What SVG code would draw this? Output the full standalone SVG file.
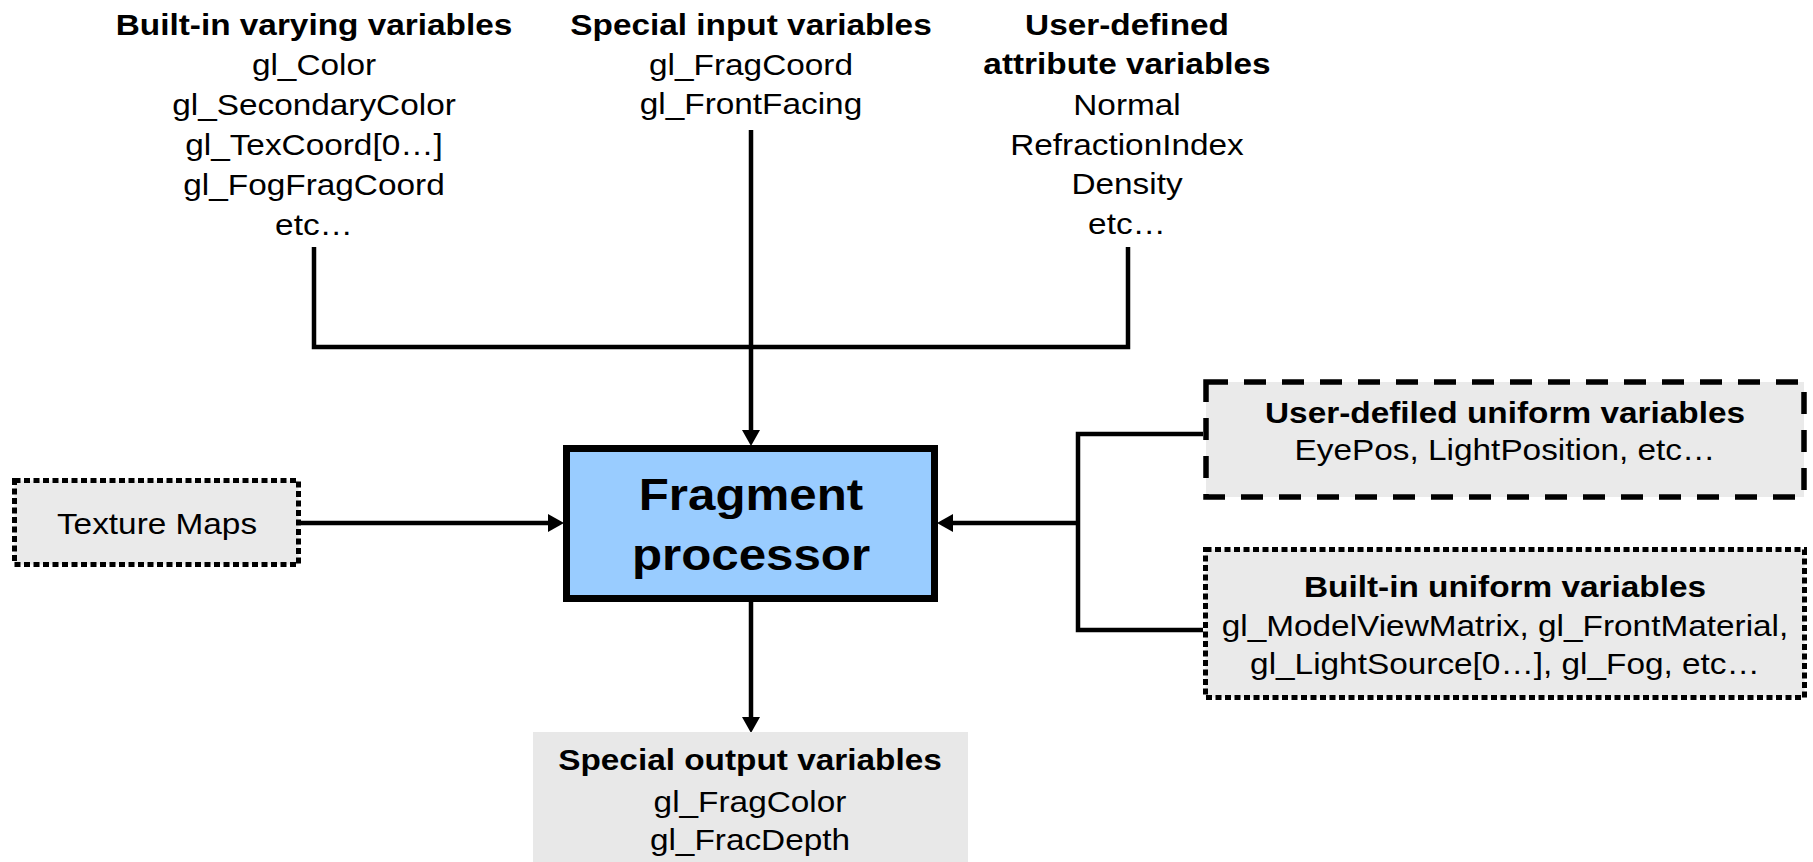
<svg xmlns="http://www.w3.org/2000/svg" width="1813" height="862" viewBox="0 0 1813 862">
<defs>
<style>
text{font-family:"Liberation Sans",Arial,sans-serif;font-size:29px;fill:#000;text-anchor:middle}
.b{font-weight:bold}
.big{font-size:44px;font-weight:bold}
.ln{fill:none;stroke:#000;stroke-width:4.5}
</style>
<marker id="ah" markerUnits="userSpaceOnUse" markerWidth="16" markerHeight="18" refX="5" refY="9" orient="auto" viewBox="0 0 16 18">
<path d="M0,0 L16,9 L0,18 z" fill="#000"/>
</marker>
</defs>
<rect width="1813" height="862" fill="#fff"/>

<g id="connectors">
<polyline class="ln" points="314,247 314,347 1128,347 1128,247"/>
<line class="ln" x1="751" y1="130" x2="751" y2="435" marker-end="url(#ah)"/>
<line class="ln" x1="301" y1="523" x2="553" y2="523" marker-end="url(#ah)"/>
<polyline class="ln" points="1203,434 1078,434 1078,630 1203,630"/>
<line class="ln" x1="1078" y1="523" x2="948" y2="523" marker-end="url(#ah)"/>
<line class="ln" x1="751" y1="602" x2="751" y2="722" marker-end="url(#ah)"/>
</g>

<g id="builtin-varying" transform="translate(314 0) scale(1.15 1)">
<text class="b" x="0" y="35">Built-in varying variables</text>
<text x="0" y="75">gl_Color</text>
<text x="0" y="115">gl_SecondaryColor</text>
<text x="0" y="155">gl_TexCoord[0…]</text>
<text x="0" y="195">gl_FogFragCoord</text>
<text x="0" y="235">etc…</text>
</g>

<g id="special-input" transform="translate(751 0) scale(1.15 1)">
<text class="b" x="0" y="35">Special input variables</text>
<text x="0" y="75">gl_FragCoord</text>
<text x="0" y="114">gl_FrontFacing</text>
</g>

<g id="user-attribute" transform="translate(1127 0) scale(1.15 1)">
<text class="b" x="0" y="35">User-defined</text>
<text class="b" x="0" y="74">attribute variables</text>
<text x="0" y="115">Normal</text>
<text x="0" y="155">RefractionIndex</text>
<text x="0" y="194">Density</text>
<text x="0" y="234">etc…</text>
</g>

<g id="texture-maps">
<rect x="14.5" y="480.5" width="284" height="84" fill="#eaeaea" stroke="#000" stroke-width="5" stroke-dasharray="6 3.5"/>
<text transform="translate(157 534) scale(1.15 1)" x="0" y="0">Texture Maps</text>
</g>

<g id="fragment-processor">
<rect x="566.5" y="448.5" width="368" height="150" fill="#99ccff" stroke="#000" stroke-width="7"/>
<g transform="translate(751 0) scale(1.12 1)">
<text class="big" x="0" y="510">Fragment</text>
<text class="big" x="0" y="570">processor</text>
</g>
</g>

<g id="user-uniform">
<rect x="1206" y="382" width="598" height="115" fill="#eaeaea" stroke="#000" stroke-width="5.5" stroke-dasharray="22 16"/>
<g transform="translate(1505 0) scale(1.15 1)">
<text class="b" x="0" y="423">User-defiled uniform variables</text>
<text x="0" y="460">EyePos, LightPosition, etc…</text>
</g>
</g>

<g id="builtin-uniform">
<rect x="1205.5" y="549.5" width="599" height="148" fill="#eaeaea" stroke="#000" stroke-width="5" stroke-dasharray="6 3.5"/>
<g transform="translate(1505 0) scale(1.15 1)">
<text class="b" x="0" y="597">Built-in uniform variables</text>
<text x="0" y="636">gl_ModelViewMatrix, gl_FrontMaterial,</text>
<text x="0" y="674">gl_LightSource[0…], gl_Fog, etc…</text>
</g>
</g>

<g id="special-output">
<rect x="533" y="732" width="435" height="130" fill="#e8e8e8"/>
<g transform="translate(750 0) scale(1.15 1)">
<text class="b" x="0" y="770">Special output variables</text>
<text x="0" y="812">gl_FragColor</text>
<text x="0" y="850">gl_FracDepth</text>
</g>
</g>
</svg>
